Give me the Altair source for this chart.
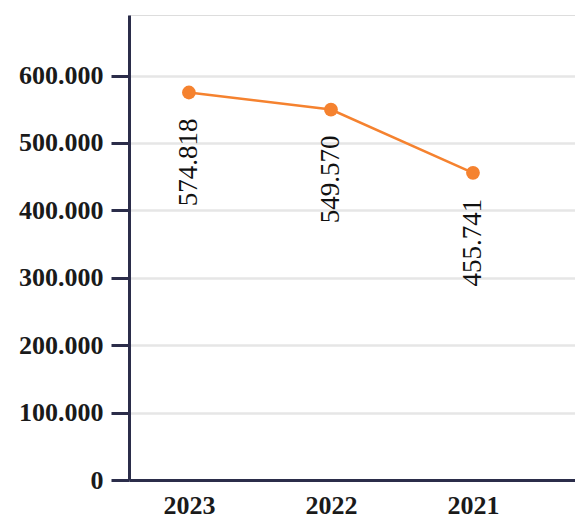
import altair as alt
import pandas as pd

# Yearly totals, newest year first
years = ["2023", "2022", "2021"]
totals = [574818, 549570, 455741]
labels = ["574.818", "549.570", "455.741"]

y_ticks = [0, 100000, 200000, 300000, 400000, 500000, 600000]
y_max = max(totals) * 1.2

df = pd.DataFrame({"year": years, "total": totals, "label": labels})

font = "Liberation Serif"
ink = "#1a1a1a"
axis_col = "#2b2d4a"
orange = "#f5822f"

x = alt.X(
    "year:N",
    sort=years,
    title=None,
    scale=alt.Scale(type="point", padding=0.57, align=0.37),
    axis=alt.Axis(
        labelAngle=0,
        labelFont=font,
        labelFontSize=26,
        labelFontWeight="bold",
        labelColor=ink,
        labelPadding=12,
        ticks=False,
        domainColor=axis_col,
        domainWidth=3,
        grid=False,
    ),
)

y = alt.Y(
    "total:Q",
    title=None,
    scale=alt.Scale(domain=[0, y_max], nice=False, zero=True),
    axis=alt.Axis(
        values=y_ticks,
        labelExpr="replace(format(datum.value, ',d'), ',', '.')",
        labelFont=font,
        labelFontSize=26,
        labelFontWeight="bold",
        labelColor=ink,
        labelPadding=8,
        tickSize=18,
        tickWidth=3,
        tickColor=axis_col,
        domainColor=axis_col,
        domainWidth=3,
        grid=True,
        gridColor="#e6e6e6",
        gridWidth=2.5,
    ),
)

base = alt.Chart(df).encode(x=x, y=y)

line = base.mark_line(color=orange, strokeWidth=2.5)
points = base.mark_circle(color=orange, size=190, opacity=1)
text = base.mark_text(
    angle=270,
    align="right",
    baseline="middle",
    dx=-26,
    font=font,
    fontSize=27,
    color="#111111",
).encode(text="label:N")

chart = (
    alt.layer(line, points, text)
    .properties(
        width=446,
        height=465,
        autosize=alt.AutoSizeParams(type="none"),
        padding={"left": 129, "top": 15, "right": 0, "bottom": 38},
    )
    .configure_view(stroke=None)
    .configure(background="white")
)

chart.save("out.html", embed_options={"renderer": "svg", "actions": False})
